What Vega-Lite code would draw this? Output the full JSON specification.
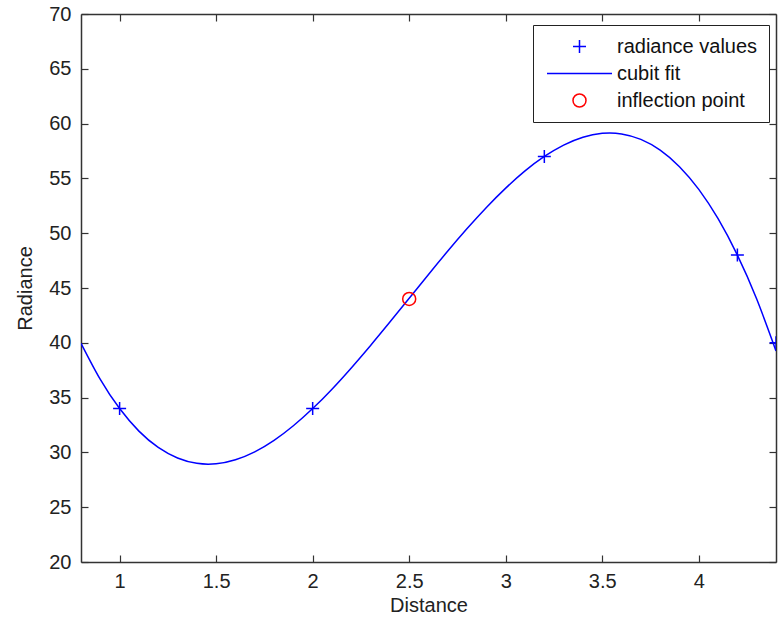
{
  "$schema": "https://vega.github.io/schema/vega-lite/v6.json",
  "width": 695,
  "height": 548,
  "autosize": "none",
  "padding": {"left": 81, "top": 14, "right": 4, "bottom": 55},
  "background": "white",
  "config": {
    "font": "Liberation Sans",
    "view": {"stroke": null},
    "axis": {
      "grid": false,
      "domainColor": "#333333",
      "domainWidth": 1.5,
      "tickColor": "#333333",
      "tickWidth": 1.2,
      "tickSize": -7,
      "labelColor": "#222222",
      "labelFont": "Liberation Sans",
      "labelFontSize": 20,
      "titleColor": "#222222",
      "titleFont": "Liberation Sans",
      "titleFontSize": 20,
      "titleFontWeight": "normal"
    }
  },
  "datasets": {
    "curve": [
      {"x": 0.8, "y": 39.96, "series": "cubit fit"},
      {"x": 0.9, "y": 36.66, "series": "cubit fit"},
      {"x": 1.0, "y": 34.0, "series": "cubit fit"},
      {"x": 1.1, "y": 31.94, "series": "cubit fit"},
      {"x": 1.2, "y": 30.45, "series": "cubit fit"},
      {"x": 1.3, "y": 29.49, "series": "cubit fit"},
      {"x": 1.4, "y": 29.0, "series": "cubit fit"},
      {"x": 1.5, "y": 28.96, "series": "cubit fit"},
      {"x": 1.6, "y": 29.33, "series": "cubit fit"},
      {"x": 1.7, "y": 30.05, "series": "cubit fit"},
      {"x": 1.8, "y": 31.1, "series": "cubit fit"},
      {"x": 1.9, "y": 32.43, "series": "cubit fit"},
      {"x": 2.0, "y": 34.0, "series": "cubit fit"},
      {"x": 2.1, "y": 35.77, "series": "cubit fit"},
      {"x": 2.2, "y": 37.71, "series": "cubit fit"},
      {"x": 2.3, "y": 39.76, "series": "cubit fit"},
      {"x": 2.4, "y": 41.89, "series": "cubit fit"},
      {"x": 2.5, "y": 44.06, "series": "cubit fit"},
      {"x": 2.6, "y": 46.24, "series": "cubit fit"},
      {"x": 2.7, "y": 48.37, "series": "cubit fit"},
      {"x": 2.8, "y": 50.42, "series": "cubit fit"},
      {"x": 2.9, "y": 52.35, "series": "cubit fit"},
      {"x": 3.0, "y": 54.11, "series": "cubit fit"},
      {"x": 3.1, "y": 55.68, "series": "cubit fit"},
      {"x": 3.2, "y": 57.0, "series": "cubit fit"},
      {"x": 3.3, "y": 58.04, "series": "cubit fit"},
      {"x": 3.4, "y": 58.76, "series": "cubit fit"},
      {"x": 3.5, "y": 59.11, "series": "cubit fit"},
      {"x": 3.6, "y": 59.06, "series": "cubit fit"},
      {"x": 3.7, "y": 58.56, "series": "cubit fit"},
      {"x": 3.8, "y": 57.58, "series": "cubit fit"},
      {"x": 3.9, "y": 56.07, "series": "cubit fit"},
      {"x": 4.0, "y": 54.0, "series": "cubit fit"},
      {"x": 4.1, "y": 51.32, "series": "cubit fit"},
      {"x": 4.2, "y": 48.0, "series": "cubit fit"},
      {"x": 4.3, "y": 43.99, "series": "cubit fit"},
      {"x": 4.4, "y": 39.26, "series": "cubit fit"}
    ],
    "points": [
      {"x": 1.0, "y": 34, "series": "radiance values"},
      {"x": 2.0, "y": 34, "series": "radiance values"},
      {"x": 3.2, "y": 57, "series": "radiance values"},
      {"x": 4.2, "y": 48, "series": "radiance values"},
      {"x": 4.4, "y": 40, "series": "radiance values"}
    ],
    "inflection": [
      {"x": 2.5, "y": 44, "series": "inflection point"}
    ]
  },
  "layer": [
    {
      "data": {"name": "curve"},
      "mark": {"type": "line", "strokeWidth": 1.5, "interpolate": "natural", "clip": true},
      "encoding": {
        "x": {"field": "x", "type": "quantitative", "title": "Distance",
              "scale": {"domain": [0.8, 4.4], "nice": false, "zero": false},
              "axis": {"orient": "bottom", "values": [1, 1.5, 2, 2.5, 3, 3.5, 4], "format": "~g", "labelPadding": 16, "titlePadding": 4}},
        "y": {"field": "y", "type": "quantitative", "title": "Radiance",
              "scale": {"domain": [20, 70], "nice": false, "zero": false},
              "axis": {"orient": "left", "values": [20, 25, 30, 35, 40, 45, 50, 55, 60, 65, 70], "format": "d", "labelPadding": 17, "titlePadding": 13}},
        "color": {"field": "series", "type": "nominal",
                  "scale": {"domain": ["radiance values", "cubit fit", "inflection point"], "range": ["#0000ff", "#0000ff", "#ff0000"]},
                  "legend": {"title": null, "orient": "none", "legendX": 452, "legendY": 11, "padding": 11.5, "strokeColor": "#222222", "fillColor": "white", "labelFontSize": 20, "labelColor": "#111111", "symbolSize": 169, "symbolStrokeWidth": 1.5, "symbolOffset": 25, "labelOffset": 27.5, "rowPadding": 7,
                             "encode": {"symbols": {"update": {"fill": {"value": "transparent"}, "strokeWidth": {"value": 1.5}}}}}}
      }
    },
    {
      "data": {"name": "points"},
      "mark": {"type": "point", "filled": false, "strokeWidth": 1.5, "size": 169, "opacity": 1, "clip": true},
      "encoding": {
        "x": {"field": "x", "type": "quantitative", "axis": {"orient": "top", "labels": false, "title": null, "values": [1, 1.5, 2, 2.5, 3, 3.5, 4]}},
        "y": {"field": "y", "type": "quantitative", "axis": {"orient": "right", "labels": false, "title": null, "values": [20, 25, 30, 35, 40, 45, 50, 55, 60, 65, 70]}},
        "color": {"field": "series", "type": "nominal"},
        "shape": {"field": "series", "type": "nominal",
                  "scale": {"domain": ["radiance values", "cubit fit", "inflection point"], "range": ["M-1,0H1M0,-1V1", "M-5,0H5", "circle"]}}
      }
    },
    {
      "data": {"name": "inflection"},
      "mark": {"type": "point", "filled": false, "strokeWidth": 1.5, "size": 169, "opacity": 1},
      "encoding": {
        "x": {"field": "x", "type": "quantitative", "axis": null},
        "y": {"field": "y", "type": "quantitative", "axis": null},
        "color": {"field": "series", "type": "nominal"},
        "shape": {"field": "series", "type": "nominal"}
      }
    }
  ],
  "resolve": {"axis": {"x": "independent", "y": "independent"}}
}
